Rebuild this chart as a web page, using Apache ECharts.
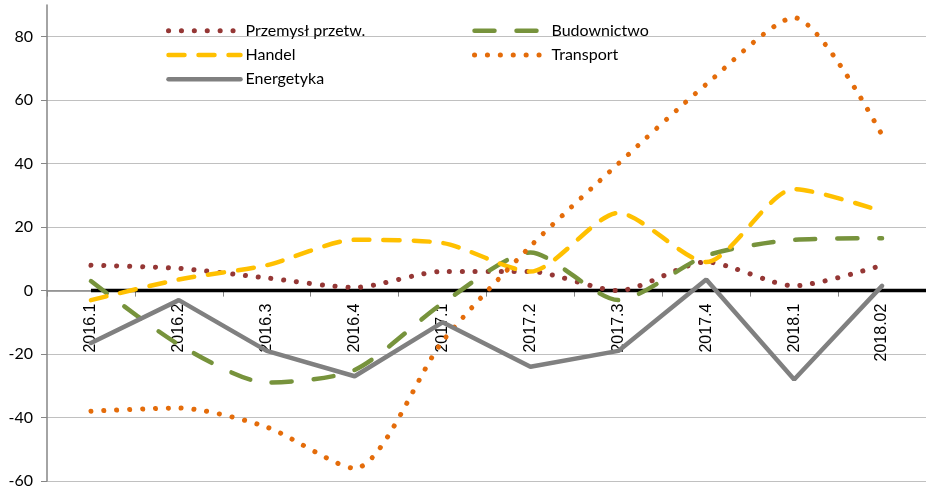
<!DOCTYPE html>
<html><head><meta charset="utf-8">
<script src="https://cdn.jsdelivr.net/npm/echarts@6/dist/echarts.min.js"></script>
<style>html,body{margin:0;padding:0;background:#fff}#c{width:926px;height:491px}</style>
</head><body><div id="c"></div>
<script>
const categories = ['2016.1','2016.2','2016.3','2016.4','2017.1','2017.2','2017.3','2017.4','2018.1','2018.02'];
const przemysl = [8, 7, 4, 1, 6, 6, 0, 9, 1.5, 8];
const budownictwo = [3, -17, -29, -25, -4, 12, -3, 11, 16, 16.5];
const handel = [-3, 3.5, 8, 16, 15, 6, 24.5, 9, 32, 25];
const transport = [-38, -37, -43, -56, -16, 14, 40, 65, 86, 49];
const energetyka = [-16.5, -3, -19, -27, -10, -24, -19, 3.5, -28, 1.5];
const yTicks = [-60, -40, -20, 0, 20, 40, 60, 80];
// reference zero line: from first category centre to the right edge of the plot
const zeroLine = [[0, 0], [9.5, 0]];

const FONT = 'Lato';
const dot = [0.1, 12.8];
const styles = {
  'Przemysł przetw.': { color: '#953735', type: dot, smooth: 0.25, width: 5 },
  'Budownictwo': { color: '#77933C', type: [20, 22], smooth: 0.25, width: 4.5 },
  'Handel': { color: '#FFC000', type: [16, 14], smooth: 0.25, width: 4.5 },
  'Transport': { color: '#E46C0A', type: dot, smooth: 0.25, width: 5 },
  'Energetyka': { color: '#808080', type: 'solid', smooth: false, width: 4.5 }
};
function mk(name, data) {
  const s = styles[name];
  return {
    name, type: 'line', data, smooth: s.smooth, symbol: 'none',
    lineStyle: { color: s.color, width: s.width, type: s.type, cap: 'round' },
    itemStyle: { color: s.color }
  };
}
function legItem(name) {
  const s = styles[name];
  return { name, itemStyle: { opacity: 0, color: 'transparent', borderWidth: 0 },
    lineStyle: { color: s.color, width: s.width, type: s.type, cap: 'round', opacity: 1 } };
}
const legCommon = { orient: 'vertical', top: 22.7, padding: 0, itemWidth: 72, itemHeight: 16, itemGap: 8.3,
  textStyle: { fontFamily: FONT, fontSize: 16, color: '#000' } };
const chart = echarts.init(document.getElementById('c'));
chart.setOption({
  animation: false,
  grid: { left: 47, right: 0, top: 5, bottom: 10, containLabel: false, outerBoundsMode: 'none' },
  legend: [
    Object.assign({ left: 166, data: ['Przemysł przetw.', 'Handel', 'Energetyka'].map(legItem) }, legCommon),
    Object.assign({ left: 472, data: ['Budownictwo', 'Transport'].map(legItem) }, legCommon)
  ],
  xAxis: [{
    type: 'category', data: categories, boundaryGap: true, position: 'bottom',
    offset: -190.4,
    axisLine: { onZero: false, lineStyle: { color: '#868686', width: 1.5 } },
    axisTick: { show: true, length: 6, lineStyle: { color: '#868686', width: 1 } },
    axisLabel: { rotate: 90, margin: 13, color: '#000', fontFamily: 'Liberation Sans', fontSize: 16, interval: 0 },
    splitLine: { show: false }
  }, {
    type: 'value', min: -0.5, max: 9.5, show: false,
    axisLine: { show: false, onZero: false }, splitLine: { show: false }
  }],
  yAxis: {
    type: 'value', min: -60, max: 90, position: 'left',
    axisLine: { show: true, onZero: false, lineStyle: { color: '#868686', width: 1.5 } },
    axisTick: { show: true, length: 6, customValues: yTicks, lineStyle: { color: '#868686' } },
    axisLabel: { customValues: yTicks, margin: 14, color: '#000', fontFamily: FONT, fontSize: 16 },
    splitLine: { show: true, lineStyle: { color: '#c0c0c0', width: 1.2 } }
  },
  series: [
    { name: 'zero', type: 'line', xAxisIndex: 1, data: zeroLine, symbol: 'none',
      lineStyle: { color: '#000', width: 3.5 }, silent: true },
    mk('Przemysł przetw.', przemysl),
    mk('Budownictwo', budownictwo),
    mk('Handel', handel),
    mk('Transport', transport),
    mk('Energetyka', energetyka)
  ]
});
</script></body></html>
